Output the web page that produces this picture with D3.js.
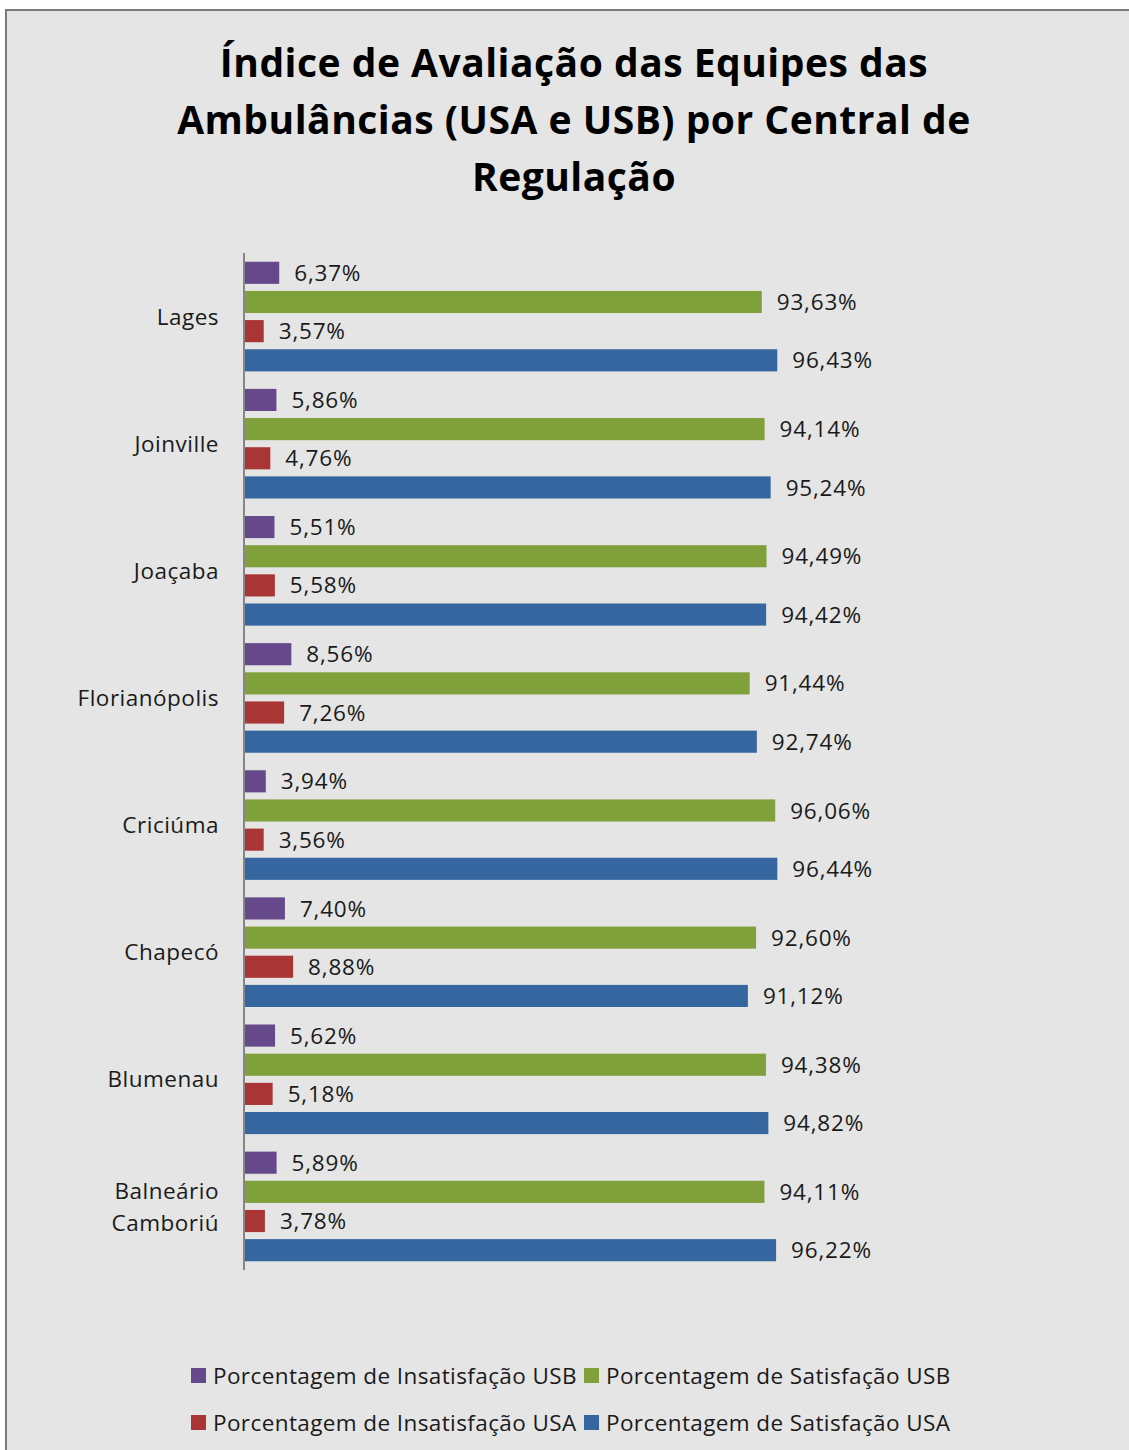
<!DOCTYPE html>
<html>
<head>
<meta charset="utf-8">
<script src="https://cdn.jsdelivr.net/npm/d3@7"></script>
<style>
  body { margin: 0; background: #fff; }
  svg { display: block; font-family: "Open Sans", Lato, sans-serif; }
</style>
</head>
<body>
<svg id="chart" width="1129" height="1450"></svg>
<script>
var titleLines = ["Índice de Avaliação das Equipes das", "Ambulâncias (USA e USB) por Central de", "Regulação"];

var centrais = ["Lages", "Joinville", "Joaçaba", "Florianópolis", "Criciúma", "Chapecó", "Blumenau", "Balneário Camboriú"];

var series = ["Porcentagem de Insatisfação USB", "Porcentagem de Satisfação USB",
              "Porcentagem de Insatisfação USA", "Porcentagem de Satisfação USA"];
var seriesColors = ["#66498a", "#80a03c", "#a93535", "#35669f"];

var insatisfacaoUSB = [6.37, 5.86, 5.51, 8.56, 3.94, 7.40, 5.62, 5.89];
var satisfacaoUSB   = [93.63, 94.14, 94.49, 91.44, 96.06, 92.60, 94.38, 94.11];
var insatisfacaoUSA = [3.57, 4.76, 5.58, 7.26, 3.56, 8.88, 5.18, 3.78];
var satisfacaoUSA   = [96.43, 95.24, 94.42, 92.74, 96.44, 91.12, 94.82, 96.22];

var allSeries = [insatisfacaoUSB, satisfacaoUSB, insatisfacaoUSA, satisfacaoUSA];

var svg = d3.select("#chart");

// background panel with the border on the left and top
svg.append("rect")
  .attr("x", 6).attr("y", 10)
  .attr("width", 1140).attr("height", 1460)
  .attr("fill", "#e5e5e5")
  .attr("stroke", "#7a7a7a")
  .attr("stroke-width", 2);

svg.append("g").selectAll("text")
  .data(titleLines)
  .join("text")
  .attr("x", 574)
  .attr("y", function(d, i) { return 77 + i * 57; })
  .attr("text-anchor", "middle")
  .attr("font-size", 39)
  .attr("font-weight", "bold")
  .attr("letter-spacing", 0.5)
  .attr("fill", "#000")
  .text(function(d) { return d; });

var x = d3.scaleLinear().domain([0, 100]).range([244, 797]);

var y = d3.scaleBand().domain(centrais).range([253, 1270]).paddingInner(0).paddingOuter(0);

var ySub = d3.scaleBand().domain(d3.range(4)).range([0, y.bandwidth()]).paddingInner(7 / 29).paddingOuter(0.3);

var rows = [];
centrais.forEach(function(c, i) {
  allSeries.forEach(function(s, j) {
    rows.push({ central: c, serie: j, value: s[i] });
  });
});

var bars = svg.append("g");

bars.selectAll("rect")
  .data(rows)
  .join("rect")
  .attr("x", x(0))
  .attr("y", function(d) { return y(d.central) + ySub(d.serie); })
  .attr("width", function(d) { return x(d.value) - x(0); })
  .attr("height", ySub.bandwidth())
  .attr("fill", function(d) { return seriesColors[d.serie]; });

bars.selectAll("text")
  .data(rows)
  .join("text")
  .attr("x", function(d) { return x(d.value) + 15; })
  .attr("y", function(d) { return y(d.central) + ySub(d.serie) + ySub.bandwidth() / 2; })
  .attr("dy", "0.36em")
  .attr("font-size", 22.5)
  .attr("letter-spacing", 0.8)
  .attr("fill", "#1a1a1a")
  .text(function(d) { return d.value.toFixed(2).replace(".", ",") + "%"; });

// category axis
svg.append("line")
  .attr("x1", x(0)).attr("x2", x(0))
  .attr("y1", 253).attr("y2", 1270)
  .attr("stroke", "#868686")
  .attr("stroke-width", 2);

var labels = svg.append("g").selectAll("text")
  .data(centrais)
  .join("text")
  .attr("x", 219)
  .attr("y", function(d) { return y(d) + y.bandwidth() / 2; })
  .attr("text-anchor", "end")
  .attr("font-size", 22.5)
  .attr("letter-spacing", 0.5)
  .attr("fill", "#1a1a1a");

labels.each(function(d) {
  var words = d.split(" ");
  var t = d3.select(this);
  words.forEach(function(w, i) {
    t.append("tspan")
      .attr("x", 219)
      .attr("dy", i === 0 ? ((0.36 - (words.length - 1) * 0.71) + "em") : "1.42em")
      .text(w);
  });
});

// legend
var legendPos = [[191, 1376], [584, 1376], [191, 1423], [584, 1423]];

var legend = svg.append("g").selectAll("g")
  .data(series)
  .join("g")
  .attr("transform", function(d, i) { return "translate(" + legendPos[i][0] + "," + legendPos[i][1] + ")"; });

legend.append("rect")
  .attr("x", 0).attr("y", -8)
  .attr("width", 15).attr("height", 15)
  .attr("fill", function(d, i) { return seriesColors[i]; });

legend.append("text")
  .attr("x", 22)
  .attr("dy", "0.36em")
  .attr("font-size", 22.5)
  .attr("letter-spacing", 0.4)
  .attr("fill", "#1a1a1a")
  .text(function(d) { return d; });
</script>
</body>
</html>
